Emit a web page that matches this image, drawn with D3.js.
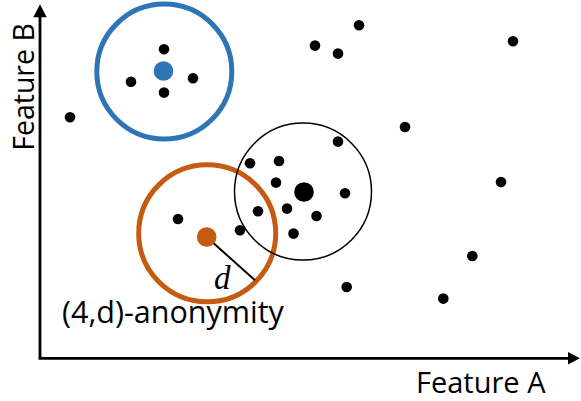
<!DOCTYPE html>
<html>
<head>
<meta charset="utf-8">
<script src="https://cdn.jsdelivr.net/npm/d3@7/dist/d3.min.js"></script>
<style>
  html, body { margin: 0; padding: 0; background: #fff; }
  svg { display: block; }
</style>
</head>
<body>
<svg id="chart" width="581" height="401"></svg>
<script>
// ---- Data (Feature A, Feature B units) ----
const pointsA = [124, 91, 153, 124, 30, 319, 275, 298, 473, 365, 298, 461,
                 210, 239, 236, 305, 218, 247, 276.5, 253.5, 138, 200, 432.3, 306.7, 403.3];
const pointsB = [309, 276.5, 280, 265.7, 241, 333, 312.7, 304.7, 317, 231.3, 216.7, 176.3,
                 195, 197.3, 175.7, 165, 147, 149.7, 142.3, 124.7, 139.3, 128, 102.3, 71.3, 59.7];

const centerNames = ["blue", "orange", "black"];
const centerA = [123.5, 166.7, 264];
const centerB = [287.3, 121.3, 166.3];
const circleA = [124.3, 167.2, 263];
const circleB = [286.7, 125, 166.7];
const circleR = [67.5, 68.5, 68.5];

const dLineEndA = 215, dLineEndB = 78;
const axisLabels = ["Feature A", "Feature B"];
const annotation = "(4,d)-anonymity";

// ---- Layout ----
const svg = d3.select("#chart");
const x = d3.scaleLinear().domain([0, 540]).range([40, 580]);
const y = d3.scaleLinear().domain([0, 354]).range([358.3, 4.3]);
const rpx = v => x(v) - x(0);

const colors = { blue: "#2E75B6", orange: "#C55A11", black: "#000" };
const strokeW = { blue: 5, orange: 5, black: 1.5 };

// circles
svg.append("g").selectAll("circle").data(centerNames).join("circle")
  .attr("cx", (d, i) => x(circleA[i]))
  .attr("cy", (d, i) => y(circleB[i]))
  .attr("r", (d, i) => rpx(circleR[i]))
  .attr("fill", "none")
  .attr("stroke", d => colors[d])
  .attr("stroke-width", d => strokeW[d]);

// d line
svg.append("line")
  .attr("x1", x(centerA[1])).attr("y1", y(centerB[1]))
  .attr("x2", x(dLineEndA)).attr("y2", y(dLineEndB))
  .attr("stroke", "#000").attr("stroke-width", 2);

// small points
svg.append("g").selectAll("circle").data(pointsA).join("circle")
  .attr("cx", d => x(d))
  .attr("cy", (d, i) => y(pointsB[i]))
  .attr("r", 5.3)
  .attr("fill", "#000");

// center points
svg.append("g").selectAll("circle").data(centerNames).join("circle")
  .attr("cx", (d, i) => x(centerA[i]))
  .attr("cy", (d, i) => y(centerB[i]))
  .attr("r", 9.8)
  .attr("fill", d => colors[d]);

// axes
const x0 = x.range()[0], x1 = x.range()[1];
const y0 = y.range()[0], y1 = y.range()[1];
const ax = svg.append("g");
ax.append("line").attr("x1", x0).attr("y1", y0).attr("x2", x0).attr("y2", y1 + 10)
  .attr("stroke", "#000").attr("stroke-width", 2.8);
ax.append("line").attr("x1", x0 - 1.4).attr("y1", y0).attr("x2", x1 - 10).attr("y2", y0)
  .attr("stroke", "#000").attr("stroke-width", 2.8);
ax.append("path")
  .attr("d", d3.line()([[x0, y1], [x0 - 6.7, y1 + 13], [x0 + 6.7, y1 + 13]]) + "Z")
  .attr("fill", "#000");
ax.append("path")
  .attr("d", d3.line()([[x1, y0], [x1 - 12, y0 - 6.3], [x1 - 12, y0 + 6.3]]) + "Z")
  .attr("fill", "#000");

// labels
const font = "'Open Sans', 'Noto Sans', sans-serif";
svg.append("text").text(axisLabels[0])
  .attr("x", 416).attr("y", 393)
  .attr("font-family", font).attr("font-size", 29).attr("fill", "#000");
svg.append("text").text(axisLabels[1])
  .attr("transform", "translate(34,87) rotate(-90)")
  .attr("text-anchor", "middle")
  .attr("font-family", font).attr("font-size", 28.5).attr("fill", "#000");
svg.append("text").text(annotation)
  .attr("x", 62).attr("y", 323)
  .attr("font-family", font).attr("font-size", 30.5).attr("fill", "#000");
svg.append("text").text("d")
  .attr("x", 214).attr("y", 289)
  .attr("font-family", "'Liberation Serif', 'DejaVu Serif', serif")
  .attr("font-style", "italic")
  .attr("font-size", 33).attr("fill", "#000");
</script>
</body>
</html>
